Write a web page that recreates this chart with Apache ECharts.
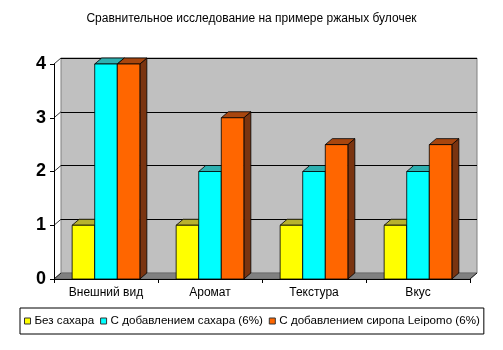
<!DOCTYPE html>
<html><head><meta charset="utf-8">
<script src="https://cdn.jsdelivr.net/npm/echarts@6/dist/echarts.min.js"></script>
<style>html,body{margin:0;padding:0;background:#fff}#c{width:503px;height:350px}</style>
</head><body><div id="c"></div>
<script>
var title = 'Сравнительное исследование на примере ржаных булочек';
var categories = ['Внешний вид', 'Аромат', 'Текстура', 'Вкус'];
var seriesNames = ['Без сахара', 'С добавлением сахара (6%)', 'С добавлением сиропа Leipomo (6%)'];
var noSugar = [1, 1, 1, 1];
var withSugar = [4, 2, 2, 2];
var withSyrup = [4, 3, 2.5, 2.5];
var yTicks = [0, 1, 2, 3, 4];

var FONT = "Arial, 'Liberation Sans', sans-serif";
var DX = 7, DY = -6;
var faces = [
  {front: '#ffff00', top: '#b8b22e', side: '#80800a'},
  {front: '#00ffff', top: '#2eb0b0', side: '#108080'},
  {front: '#ff6600', top: '#a8460e', side: '#7a3410'}
];
var values = [noSugar, withSugar, withSyrup];

function barRenderer(k) {
  return function (params, api) {
    var cat = api.value(0), v = api.value(1);
    var top = api.coord([cat, v]);
    var base = api.coord([cat, 0]);
    var band = api.size([1, 0])[0];
    var bw = band * 0.217;
    var cx = top[0] + (k - 1) * bw;
    var x0 = cx - bw / 2, x1 = cx + bw / 2;
    var y1 = top[1], y0 = base[1];
    var f = faces[k];
    var st = {stroke: '#000', lineWidth: 0.8};
    return {
      type: 'group',
      children: [
        {type: 'polygon', shape: {points: [[x1, y1], [x1 + DX, y1 + DY], [x1 + DX, y0 + DY], [x1, y0]]}, style: Object.assign({fill: f.side}, st)},
        {type: 'polygon', shape: {points: [[x0, y1], [x1, y1], [x1 + DX, y1 + DY], [x0 + DX, y1 + DY]]}, style: Object.assign({fill: f.top}, st)},
        {type: 'rect', shape: {x: x0, y: y1, width: bw, height: y0 - y1}, style: Object.assign({fill: f.front}, st)}
      ]
    };
  };
}

function decorRenderer(params, api) {
  var p0 = api.coord([0, 0]);
  var p3 = api.coord([categories.length - 1, 0]);
  var band = api.size([1, 0])[0];
  var left = p0[0] - band / 2, right = p3[0] + band / 2, y0 = p0[1];
  var children = [
    {type: 'polygon', shape: {points: [[left, y0], [right, y0], [right + DX, y0 + DY], [left + DX, y0 + DY]]},
     style: {fill: '#808080', stroke: '#606060', lineWidth: 0.6}}
  ];
  yTicks.forEach(function (t) {
    var y = api.coord([0, t])[1];
    children.push({type: 'line', shape: {x1: left, y1: y, x2: left + DX, y2: y + DY}, style: {stroke: '#000', lineWidth: 0.8}});
  });
  children.push({type: 'line', shape: {x1: right, y1: y0, x2: right + DX, y2: y0 + DY}, style: {stroke: '#000', lineWidth: 0.8}});
  return {type: 'group', children: children};
}

var series = [{
  type: 'custom', name: '__decor', xAxisIndex: 0, yAxisIndex: 0, z: 2,
  renderItem: decorRenderer, data: [[0, 0]], silent: true, tooltip: {show: false}
}];
seriesNames.forEach(function (n, k) {
  series.push({
    type: 'custom', name: n, xAxisIndex: 0, yAxisIndex: 0, z: 3 + k,
    itemStyle: {color: faces[k].front},
    renderItem: barRenderer(k),
    data: values[k].map(function (v, i) { return [i, v]; })
  });
});

var chart = echarts.init(document.getElementById('c'), null, {renderer: 'canvas'});
chart.setOption({
  animation: false,
  backgroundColor: '#fff',
  title: {text: title, left: 'center', top: 8,
    textStyle: {fontFamily: FONT, fontSize: 12, fontWeight: 'normal', color: '#000'}},
  grid: [
    {left: 54, top: 64, width: 416, height: 215},
    {left: 54 + DX, top: 64 + DY, width: 416, height: 215, show: true, backgroundColor: '#c0c0c0', borderColor: '#808080', borderWidth: 1, z: 0}
  ],
  xAxis: [
    {type: 'category', gridIndex: 0, data: categories,
     axisLine: {lineStyle: {color: '#000', width: 1}},
     axisTick: {show: true, length: 4, lineStyle: {color: '#000'}},
     axisLabel: {fontFamily: FONT, fontSize: 12, color: '#000', margin: 8}, z: 10},
    {type: 'category', gridIndex: 1, data: categories, show: false}
  ],
  yAxis: [
    {type: 'value', gridIndex: 0, min: 0, max: 4, interval: 1,
     axisLine: {show: true, lineStyle: {color: '#000', width: 1}},
     axisTick: {show: true, length: 4, lineStyle: {color: '#000'}},
     axisLabel: {fontFamily: FONT, fontSize: 18, fontWeight: 'bold', color: '#000', margin: 8},
     splitLine: {show: false}, z: 10},
    {type: 'value', gridIndex: 1, min: 0, max: 4, interval: 1,
     axisLine: {show: false}, axisTick: {show: false}, axisLabel: {show: false},
     splitLine: {show: true, lineStyle: {color: '#000', width: 1}}}
  ],
  legend: {
    data: seriesNames.map(function (n, k) {
      return {name: n, icon: 'rect', itemStyle: {color: faces[k].front, borderColor: '#333', borderWidth: 1}};
    }),
    left: 20, top: 308, orient: 'horizontal',
    itemWidth: 6, itemHeight: 6, itemGap: 6,
    padding: [7, 4],
    borderColor: '#000', borderWidth: 1,
    textStyle: {fontFamily: FONT, fontSize: 11.6, color: '#000', padding: [0, 0, 0, -1]},
    selectedMode: false
  },
  series: series
});
</script></body></html>
